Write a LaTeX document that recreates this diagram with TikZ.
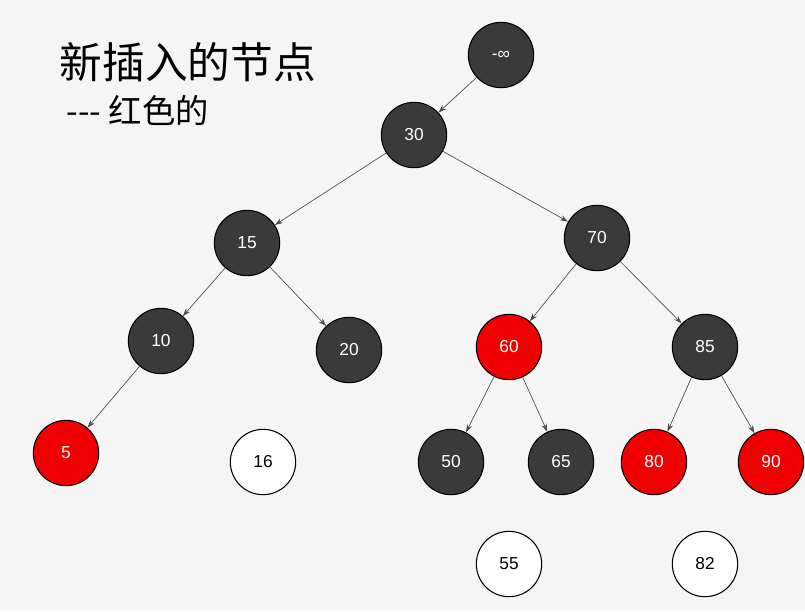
\documentclass[tikz,border=0pt]{standalone}
\usepackage{fontspec}
\setmainfont{Liberation Sans}
\newfontfamily\cjk{Noto Sans CJK SC}
\usetikzlibrary{arrows.meta}
\definecolor{bg}{HTML}{F5F5F5}
\definecolor{dk}{HTML}{3A3A3A}
\definecolor{rd}{HTML}{F00000}
\begin{document}
\begin{tikzpicture}[x=0.75pt,y=-0.75pt,
  bn/.style={circle,draw=black,line width=0.8pt,fill=dk,minimum size=49pt,inner sep=0pt,text=white,font=\fontsize{13}{13}\selectfont},
  rn/.style={bn,fill=rd},
  wn/.style={bn,fill=white,text=black},
  ed/.style={-{Stealth[length=6pt,width=4pt]},draw=black!70,line width=0.5pt}]
\fill[bg] (0,0) rectangle (805,611);
\useasboundingbox (0,0) rectangle (805,611);
\node[anchor=west,font=\cjk\fontsize{32}{32}\selectfont] (t1) at (55,62) {新插入的节点};
\node[anchor=west,font=\cjk\fontsize{25}{25}\selectfont] (t2) at (62,110) {--- 红色的};
\node[bn] (ni) at (501,55) {-∞};
\node[bn] (n30) at (414,135) {30};
\node[bn] (n15) at (247,243) {15};
\node[bn] (n70) at (597,238) {70};
\node[bn] (n10) at (161,341) {10};
\node[bn] (n20) at (349,350) {20};
\node[rn] (n60) at (509,347) {60};
\node[bn] (n85) at (705,347) {85};
\node[rn] (n5) at (66,453) {5};
\node[wn] (n16) at (263,462) {16};
\node[bn] (n50) at (451,462) {50};
\node[bn] (n65) at (561,462) {65};
\node[rn] (n80) at (654,462) {80};
\node[rn] (n90) at (771,462) {90};
\node[wn] (n55) at (509,564) {55};
\node[wn] (n82) at (705,564) {82};
\foreach \a/\b in {ni/n30,n30/n15,n30/n70,n15/n10,n15/n20,n10/n5,n70/n60,n70/n85,n60/n50,n60/n65,n85/n80,n85/n90}
  \draw[ed] (\a) -- (\b);
\end{tikzpicture}
\end{document}
